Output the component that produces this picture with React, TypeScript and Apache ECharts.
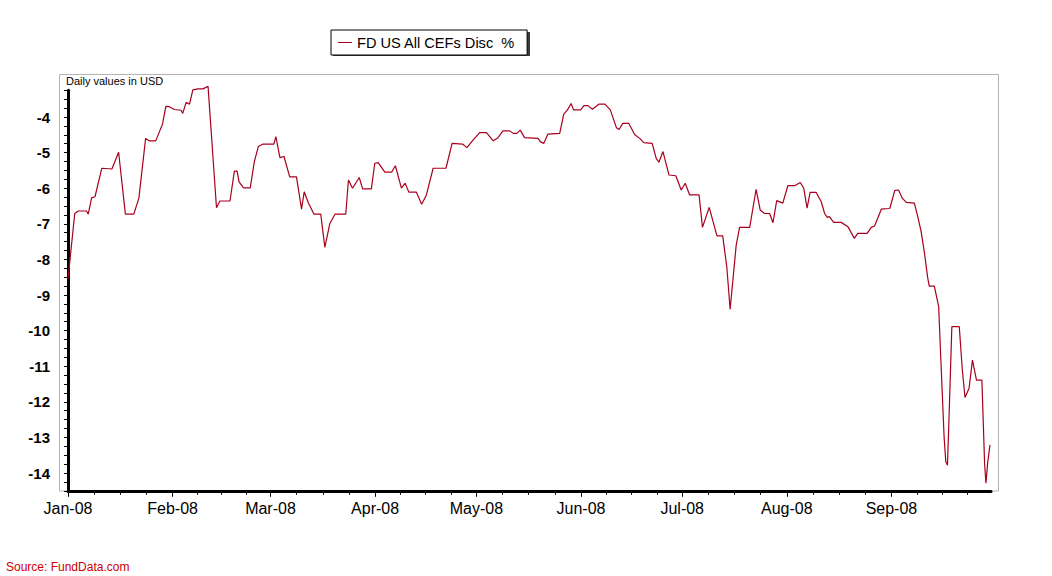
import React, { useEffect, useRef } from "react";
import * as echarts from "echarts";

// Days since 1 Jan 2008 and the discount values (%)
const days = [
  0, 2, 3, 5.5, 6, 7, 8, 10, 13, 15, 17, 19.5, 21, 23, 24, 26, 28, 29, 30, 31.5,
  33.5, 34, 35, 36, 37, 38.5, 40, 41.5, 44, 45, 48, 49.3, 50.1, 50.7, 52, 54, 55.2,
  56.4, 57.8, 61, 61.6, 62.8, 64, 65.7, 67.7, 69.2, 70, 71.2, 72.9, 74.9, 76.1, 77.6,
  79.1, 82.3, 83.1, 84.3, 86.3, 87.3, 89.9, 90.9, 91.9, 93.9, 95.9, 97, 98.8, 99.9,
  101, 103.2, 104.8, 106.2, 108.2, 112, 113.8, 116.9, 118.2, 120, 122, 124, 126,
  127.4, 128.9, 130.9, 131.9, 133, 134, 135.3, 139.3, 140, 141, 142.2, 145.7, 146.9,
  148, 149.1, 149.8, 151.9, 152.9, 154.1, 155.4, 157.3, 159.1, 160.7, 162.5, 163.3,
  164.4, 166.2, 167.9, 169.4, 170.6, 173.1, 174.3, 175.1, 176.3, 178.1, 180.1, 181.7,
  182.9, 184.2, 187, 188, 190, 192.3, 194, 195.2, 196.2, 198, 199, 202, 203.9, 205.1,
  206.4, 207.9, 208.9, 210, 211.8, 213.3, 215.3, 217, 218, 219, 219.9, 221.7, 223.2,
  224.2, 225, 225.6, 226.9, 229.1, 231.1, 233, 234, 236.8, 238, 239, 241, 243.5, 245,
  246.1, 247.2, 248.4, 250.8, 251.8, 252.8, 253.8, 254.7, 255.2, 256.7, 258, 258.6,
  259.6, 260.1, 260.6, 261.1, 261.9, 264.1, 265, 265.8, 267, 268, 269.2, 270.8, 271.6,
  272, 272.5, 273.2,
];
const values = [
  -8.55, -6.71, -6.64, -6.64, -6.73, -6.27, -6.24, -5.44, -5.46, -4.99, -6.73, -6.73,
  -6.28, -4.6, -4.67, -4.67, -4.2, -3.7, -3.71, -3.79, -3.81, -3.9, -3.59, -3.64, -3.24,
  -3.21, -3.21, -3.14, -6.55, -6.36, -6.36, -5.52, -5.52, -5.82, -5.99, -5.99, -5.26,
  -4.83, -4.76, -4.76, -4.55, -5.14, -5.11, -5.68, -5.68, -6.59, -6.1, -6.41, -6.73,
  -6.73, -7.66, -6.99, -6.73, -6.73, -5.77, -6.0, -5.7, -6.02, -6.02, -5.3, -5.28,
  -5.55, -5.55, -5.37, -6.0, -5.86, -6.11, -6.11, -6.45, -6.19, -5.44, -5.44, -4.74,
  -4.76, -4.86, -4.65, -4.44, -4.44, -4.67, -4.58, -4.39, -4.39, -4.46, -4.46, -4.37,
  -4.58, -4.6, -4.7, -4.74, -4.48, -4.46, -3.92, -3.8, -3.62, -3.8, -3.8, -3.68, -3.68,
  -3.78, -3.64, -3.64, -3.8, -4.3, -4.35, -4.18, -4.18, -4.49, -4.6, -4.72, -4.74,
  -5.16, -5.27, -4.97, -5.63, -5.65, -6.05, -5.86, -6.19, -6.19, -7.1, -6.54, -7.34,
  -7.34, -8.2, -9.4, -7.6, -7.1, -7.1, -6.03, -6.61, -6.71, -6.71, -6.97, -6.35, -6.42,
  -5.93, -5.93, -5.84, -6.0, -6.56, -6.12, -6.12, -6.38, -6.71, -6.82, -6.8, -6.96,
  -6.96, -7.08, -7.41, -7.27, -7.27, -7.1, -7.06, -6.59, -6.57, -6.06, -6.05, -6.28,
  -6.4, -6.42, -6.8, -7.22, -7.83, -8.49, -8.75, -8.75, -9.33, -10.73, -12.98, -13.68,
  -13.78, -12.32, -9.89, -9.89, -11.1, -11.88, -11.62, -10.83, -11.39, -11.39, -13.73,
  -14.29, -13.73, -13.21,
];

const monthStarts = [0, 31, 60, 91, 121, 152, 182, 213, 244];
const monthLengths = [31, 29, 31, 30, 31, 30, 31, 31, 30];
const monthLabels = [
  "Jan-08", "Feb-08", "Mar-08", "Apr-08", "May-08", "Jun-08", "Jul-08", "Aug-08", "Sep-08",
];

const seriesName = "FD US All CEFs Disc  %";
const FONT = "'Liberation Sans', Arial, sans-serif";

export default function App() {
  const ref = useRef<HTMLDivElement>(null);
  useEffect(() => {
    if (!ref.current) return;
    const chart = echarts.init(ref.current, null, { renderer: "svg" });
    const minorTicks: number[] = [];
    monthStarts.forEach((s, i) => {
      const L = monthLengths[i];
      minorTicks.push(s + L / 4, s + L / 2, s + (3 * L) / 4);
    });
    const xMax = 273.5;
    chart.setOption({
      animation: false,
      backgroundColor: "#ffffff",
      textStyle: { fontFamily: FONT },
      legend: {
        left: 331,
        top: 30,
        z: 5,
        padding: [5, 12, 5, 7],
        backgroundColor: "#ffffff",
        borderColor: "#000000",
        borderWidth: 1,
        itemWidth: 14,
        itemHeight: 1,
        itemGap: 6,
        icon: "rect",
        textStyle: { fontFamily: FONT, fontSize: 14.6, color: "#000" },
        data: [seriesName],
      },
      graphic: [
        {
          type: "rect",
          z: 0,
          shape: { x: 333, y: 32, width: 197, height: 24 },
          style: { fill: "#3c3c3c" },
        },
        {
          type: "rect",
          z: 0,
          shape: { x: 59.5, y: 74.5, width: 939, height: 416.5 },
          style: { fill: "none", stroke: "#b4b4b4", lineWidth: 1 },
        },
        {
          type: "text",
          z: 3,
          x: 66,
          y: 81,
          style: {
            text: "Daily values in USD",
            fontFamily: FONT,
            fontSize: 11,
            fill: "#000",
            verticalAlign: "middle",
          },
        },
        {
          type: "text",
          z: 3,
          x: 6,
          y: 567,
          style: {
            text: "Source: FundData.com",
            fontFamily: FONT,
            fontSize: 12,
            fill: "#cc0000",
            verticalAlign: "middle",
          },
        },
      ],
      grid: { left: 68, right: 1052 - 991, top: 90.3, bottom: 576 - 490.8, containLabel: false },
      xAxis: [
        {
          type: "value",
          min: 0,
          max: xMax,
          position: "bottom",
          axisLine: { show: true, onZero: false, lineStyle: { color: "#000", width: 3 } },
          axisTick: {
            show: true,
            customValues: monthStarts,
            length: 6,
            lineStyle: { color: "#000", width: 1 },
          },
          axisLabel: {
            show: true,
            customValues: monthStarts,
            formatter: (v: number) => {
              const i = monthStarts.indexOf(v);
              return i >= 0 ? monthLabels[i] : "";
            },
            fontFamily: FONT,
            fontSize: 16,
            color: "#000",
            margin: 10,
          },
          splitLine: { show: false },
        },
        {
          type: "value",
          min: 0,
          max: xMax,
          position: "bottom",
          axisLine: { show: false, onZero: false },
          axisTick: {
            show: true,
            customValues: minorTicks,
            length: 4,
            lineStyle: { color: "#000", width: 1 },
          },
          axisLabel: { show: false },
          splitLine: { show: false },
        },
      ],
      yAxis: {
        type: "value",
        min: -14.5,
        max: -3.25,
        interval: 0.25,
        offset: 8,
        axisLine: { show: true, lineStyle: { color: "#000", width: 3 } },
        axisTick: { show: true, length: 4, lineStyle: { color: "#000", width: 1 } },
        axisLabel: {
          formatter: (v: number) => (Math.abs(v - Math.round(v)) < 1e-6 ? String(Math.round(v)) : ""),
          fontFamily: FONT,
          fontSize: 15,
          fontWeight: "bold",
          color: "#000",
          margin: 10,
        },
        splitLine: { show: false },
      },
      series: [
        {
          name: seriesName,
          type: "line",
          xAxisIndex: 0,
          showSymbol: false,
          clip: false,
          z: 4,
          color: "#a8001c",
          lineStyle: { color: "#a8001c", width: 1.2 },
          data: days.map((d, i) => [d, values[i]]),
        },
      ],
    });
    return () => chart.dispose();
  }, []);
  return (
    <div
      ref={ref}
      style={{ position: "fixed", left: 0, top: 0, width: 1052, height: 576, background: "#fff" }}
    />
  );
}
